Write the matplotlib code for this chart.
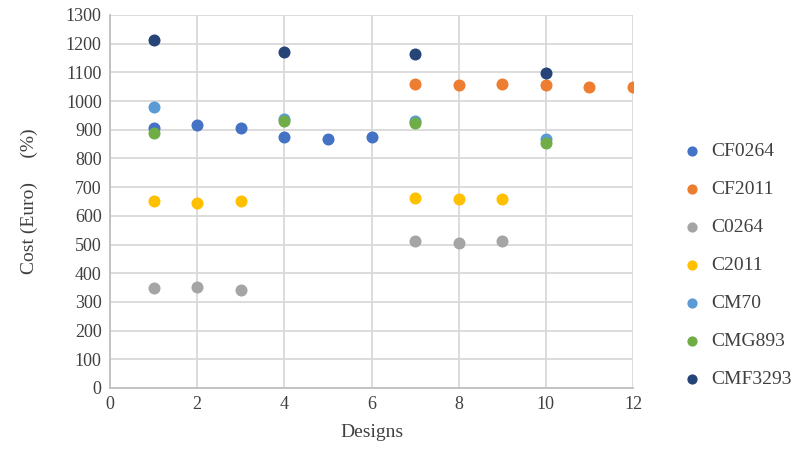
import matplotlib
matplotlib.use("Agg")
import matplotlib.pyplot as plt

plt.rcParams["font.family"] = ["Liberation Serif", "DejaVu Serif"]

series_names = ["CF0264", "CF2011", "C0264", "C2011", "CM70", "CMG893", "CMF3293"]
series_colors = ["#4472C4", "#ED7D31", "#A5A5A5", "#FFC000", "#5B9BD5", "#70AD47", "#264478"]

x_cf0264 = [1, 2, 3, 4, 5, 6]
y_cf0264 = [905, 917, 905, 875, 868, 874]
x_cf2011 = [7, 8, 9, 10, 11, 12]
y_cf2011 = [1060, 1055, 1060, 1055, 1050, 1050]
x_c0264 = [1, 2, 3, 7, 8, 9]
y_c0264 = [348, 352, 342, 512, 507, 512]
x_c2011 = [1, 2, 3, 7, 8, 9]
y_c2011 = [650, 645, 650, 662, 657, 657]
x_cm70 = [1, 4, 7, 10]
y_cm70 = [978, 938, 930, 868]
x_cmg893 = [1, 4, 7, 10]
y_cmg893 = [888, 930, 925, 855]
x_cmf3293 = [1, 4, 7, 10]
y_cmf3293 = [1212, 1170, 1165, 1098]

xs = [x_cf0264, x_cf2011, x_c0264, x_c2011, x_cm70, x_cmg893, x_cmf3293]
ys = [y_cf0264, y_cf2011, y_c0264, y_c2011, y_cm70, y_cmg893, y_cmf3293]

fig = plt.figure(figsize=(7.93, 4.65), dpi=100)
ax = fig.add_axes([110 / 793, 1 - 388 / 465, 523 / 793, 373 / 465])

for name, c, x, y in zip(series_names, series_colors, xs, ys):
    ax.scatter(x, y, s=75, color=c, label=name, zorder=3, linewidths=0)

ax.set_xlim(0, 12)
ax.set_ylim(0, 1300)
ax.set_xticks(range(0, 13, 2))
ax.set_yticks(range(0, 1301, 100))
ax.grid(True, color="#D9D9D9", linewidth=1.3)
for s in ["top", "right"]:
    ax.spines[s].set_visible(False)
for s in ["left", "bottom"]:
    ax.spines[s].set_color("#BFBFBF")
    ax.spines[s].set_linewidth(1.3)
ax.tick_params(length=0, labelsize=13, colors="#404040", pad=6)
ax.set_xlabel("Designs", fontsize=14, color="#404040", labelpad=8)
ax.set_ylabel("Cost (Euro)     (%)", fontsize=14, color="#404040", labelpad=20)

ax.legend(loc="center left", bbox_to_anchor=(1.06, 0.33), frameon=False,
          fontsize=14, labelcolor="#404040", handletextpad=0.0,
          labelspacing=1.05, markerscale=0.85, borderaxespad=0)

fig.savefig("out.png", dpi=100)
